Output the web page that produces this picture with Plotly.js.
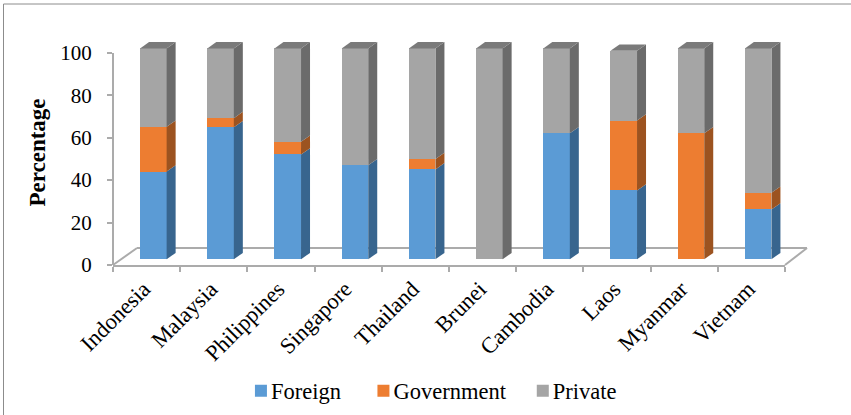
<!DOCTYPE html>
<html><head><meta charset="utf-8">
<script src="https://cdn.plot.ly/plotly-3.0.1.min.js"></script>
<style>html,body{margin:0;padding:0;background:#fff}</style></head>
<body><div id="chart" style="width:851px;height:415px"></div>
<script>
const categories=['Indonesia','Malaysia','Philippines','Singapore','Thailand','Brunei','Cambodia','Laos','Myanmar','Vietnam'];
const foreign=[41.6,62.6,49.7,44.6,42.6,0,59.7,32.6,0,23.6];
const government=[21.2,4.3,6,0,4.9,0,0,33.2,59.7,7.9];
const privateS=[37.2,33.1,44.3,55.4,52.5,100,40.3,33.1,40.3,68.5];
const yTicks=[0,20,40,60,80,100];
const names=['Foreign\u00a0\u00a0\u00a0\u00a0','Government\u00a0\u00a0\u00a0','Private'];
const frontColors=['#5B9BD5','#ED7D31','#A5A5A5'];
const sideColors=['#38658E','#9C5320','#6B6B6B'];
const topColor='#7A7A7A';
const gridGrey='#ABABAB';
const barWidth=0.395, barOffset=-0.097, depthX=0.134, depthY=3;
const series=[foreign,government,privateS];

const traces=series.map((v,i)=>({type:'bar',name:names[i],x:categories,y:v,yaxis:'y2',
  width:barWidth,offset:barOffset,marker:{color:frontColors[i],line:{width:0}},hoverinfo:'x+y'}));
// keeps the visible value axis alive: the bars sit on the hidden, offset axis
traces.unshift({type:'scatter',mode:'none',x:categories.slice(0,2),y:[0,100],showlegend:false,hoverinfo:'skip'});

const shapes=[];
const poly=(pts,color,layer,xref,yref)=>shapes.push({type:'path',xref,yref,layer,
  path:'M'+pts.map(p=>p.join(',')).join('L')+'Z',fillcolor:color,line:{width:0}});
categories.forEach((c,k)=>{
  let b=0; const xr=k+barOffset+barWidth, xl=k+barOffset;
  series.forEach((v,i)=>{
    if(v[k]>0){
      const t=b+v[k];
      poly([[xr,b],[xr+depthX,b+depthY],[xr+depthX,t+depthY],[xr,t]],sideColors[i],'above','x','y2');
      b=t;
    }
  });
  poly([[xl,b],[xr,b],[xr+depthX,b+depthY],[xl+depthX,b+depthY]],topColor,'above','x','y2');
});
const px=x=>(x-113)/672, py=y=>(265-y)/225;
const seg=(x0,y0,x1,y1,color,w,layer)=>shapes.push({type:'line',xref:'paper',yref:'paper',layer:layer||'below',
  x0:px(x0),y0:py(y0),x1:px(x1),y1:py(y1),line:{color,width:w}});
// floor, value axis line and outer frame
seg(113,265,137,248,gridGrey,2);
seg(137,248,807,248,gridGrey,2);
seg(807,248,785,265,gridGrey,2);
seg(113,53,113,265,gridGrey,2);
seg(3.5,4,851,4,'#8C8C8C',1);
seg(3.5,4,3.5,415,'#8C8C8C',1);

const layout={width:851,height:415,margin:{l:113,r:66,t:40,b:150,autoexpand:false},paper_bgcolor:'#fff',plot_bgcolor:'rgba(0,0,0,0)',
  barmode:'stack',showlegend:true,shapes,
  font:{family:'"Liberation Serif",serif',color:'#000',size:20},
  xaxis:{type:'category',categoryorder:'array',categoryarray:categories,range:[-0.5,9.5],tickson:'boundaries',
    ticks:'outside',ticklen:5,tickcolor:gridGrey,tickwidth:1.5,showline:true,linecolor:gridGrey,linewidth:2,showgrid:false,zeroline:false,
    tickangle:-45,tickfont:{size:22.5},ticklabelshift:-3},
  yaxis:{range:[0,106],tickvals:yTicks,ticktext:yTicks.map(String),ticks:'outside',ticklen:5,tickcolor:gridGrey,tickwidth:1.5,
    showline:false,showgrid:false,zeroline:false,tickfont:{size:21},ticklabelstandoff:11,
    title:{text:'<b>Percentage</b>',font:{size:23},standoff:8}},
  yaxis2:{range:[-2.75,104],overlaying:'y',side:'left',visible:false,fixedrange:true},
  legend:{orientation:'h',xref:'container',yref:'container',x:0.289,y:0.1095,xanchor:'left',yanchor:'top',traceorder:'normal',
    font:{size:22.5},itemwidth:30,indentation:-15}
};
Plotly.newPlot('chart',traces,layout,{displayModeBar:false,responsive:false}).then(()=>{
  document.querySelectorAll('#chart .legend .legendpoints').forEach(g=>g.setAttribute('transform','translate(10,0)'));
});
</script></body></html>
